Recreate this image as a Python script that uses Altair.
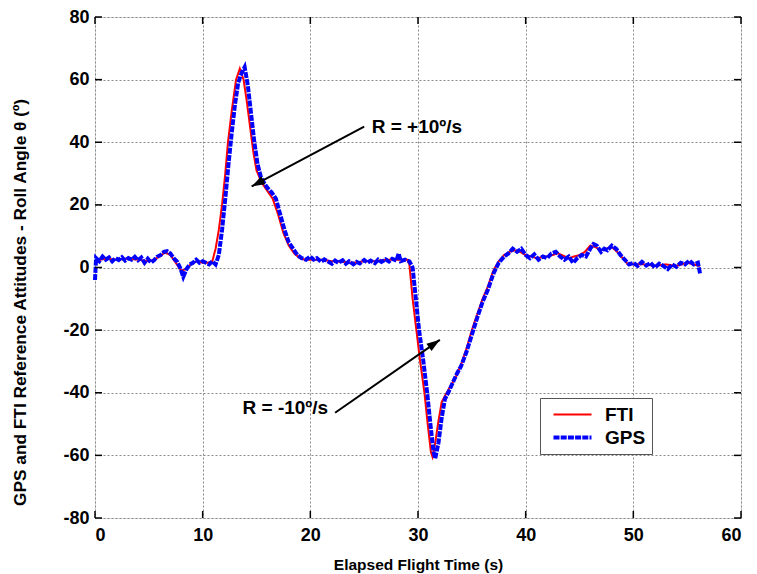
import math
import altair as alt
import pandas as pd

# ---------------- data ----------------
fti_t = [0.0, 0.5, 1.0, 2.0, 3.0, 4.0, 5.0, 5.5, 6.0, 6.5, 7.0, 7.5, 8.0, 8.5, 9.0, 9.5,
         10.0, 10.5, 10.9, 11.2, 11.5, 11.8, 12.1, 12.35, 12.7, 13.1, 13.45, 13.8, 14.1,
         14.4, 14.7, 15.0, 15.5, 16.0, 16.5, 17.0, 17.5, 18.0, 18.5, 19.0, 19.5, 20, 21,
         22, 23, 24, 25, 26, 27, 28, 29, 29.2, 29.5, 29.85, 30.2, 30.6, 30.9, 31.2, 31.35,
         31.6, 31.9, 32.2, 32.5, 33.0, 33.5, 34.0, 34.5, 35.0, 35.5, 36.0, 36.5, 37.0,
         37.5, 38.0, 38.5, 39.0, 39.5, 40.0, 41.0, 42.0, 43.0, 44.0, 45.0, 45.5, 46.0,
         46.5, 47.0, 47.5, 48.0, 48.5, 49.0, 49.5, 50.0, 51, 52, 53, 54, 55, 56.2]
fti_v = [1.5, 2.5, 2.8, 2.5, 2.8, 2.5, 2.0, 2.5, 3.5, 4.8, 4.0, 1.5, -1.0, -0.5, 1.5, 2.0,
         1.5, 1.5, 2.0, 6, 12, 20, 30, 40, 50, 60, 63.5, 60, 53,
         45, 37, 31, 27, 24.5, 22, 17, 11, 7, 4.5, 3, 2.5, 2.5, 2.5,
         2, 1.8, 1.5, 2, 2, 2.5, 2.5, 2.5, 1, -10, -20, -30, -40, -50, -59, -60.5,
         -56, -49, -43, -41, -38, -35, -31, -26, -20, -15, -10, -6, -1,
         2, 4, 5, 5.5, 5, 4, 3, 3.5, 4.5, 3, 4, 5, 7,
         6.5, 5.5, 6, 6.5, 5, 3, 1, 1, 1, 0.5, 1, 0.5, 1.5, 0.5]

gps_t = [0.0, 0.1, 0.4, 0.7, 1.0, 1.3, 1.6, 1.9, 2.2, 2.5, 2.8, 3.1, 3.4, 3.7, 4.0, 4.3,
         4.6, 4.9, 5.2, 5.5, 5.8, 6.1, 6.4, 6.7, 7.0, 7.3, 7.6, 7.9, 8.2, 8.5, 8.8, 9.1,
         9.4, 9.7, 10.0, 10.3, 10.6, 10.9, 11.2, 11.5, 11.8, 12.1, 12.4, 12.7, 13.0, 13.3,
         13.6, 13.9, 14.2, 14.5, 14.8, 15.1, 15.4, 15.7, 16.0, 16.4, 16.8, 17.2, 17.6,
         18.0, 18.4, 18.8, 19.2, 19.6, 20.0, 20.3, 20.6, 21.0, 21.3, 21.6, 22.0, 22.3,
         22.6, 23.0, 23.3, 23.6, 24.0, 24.3, 24.6, 25.0, 25.3, 25.6, 26.0, 26.3, 26.6,
         27.0, 27.3, 27.6, 28.0, 28.2, 28.4, 28.8, 29.2, 29.5, 29.8, 30.1, 30.5, 30.85,
         31.15, 31.45, 31.6, 31.9, 32.2, 32.5, 32.8, 33.2, 33.6, 34.0, 34.5, 35.0, 35.5,
         36.0, 36.5, 37.0, 37.5, 38.0, 38.4, 38.8, 39.2, 39.6, 40.0, 40.4, 40.8, 41.2,
         41.6, 42.0, 42.4, 42.8, 43.2, 43.6, 44.0, 44.4, 44.8, 45.2, 45.6, 46.0, 46.3,
         46.6, 47.0, 47.3, 47.6, 48.0, 48.4, 48.8, 49.2, 49.6, 50.0, 50.4, 50.8, 51.2,
         51.6, 52.0, 52.4, 52.8, 53.2, 53.6, 54.0, 54.4, 54.8, 55.2, 55.6, 56.0, 56.2]
gps_v = [-4, 3, 2, 3.5, 2.5, 3.2, 2, 3, 2.4, 3.3, 2.2, 3, 2.5, 3.4, 2.3, 3.2,
         1.5, 2.8, 1.6, 2.4, 3.5, 4, 5, 5.2, 4.5, 3, 2, 0, -3, -0.5, 1, 1.5,
         2.5, 1.5, 2, 1.5, 1, 2, 1, 4, 12, 22, 33, 43, 52, 59,
         62, 64, 58, 49, 40, 33, 29, 27, 25.5, 24, 22, 17, 12,
         8, 6, 4, 3, 2.5, 3.5, 2.5, 3, 1.8, 2.6, 2, 1.2, 2.2,
         1.5, 2.3, 1.2, 2, 1, 1.8, 1.3, 2.4, 1.5, 2.2, 1.4, 2.5, 1.8,
         2.6, 1.9, 2.8, 2.2, 4.5, 2, 2.5, 2, 0, -10, -20, -30, -40,
         -50, -59, -61, -56, -48, -42, -40, -37, -34, -31.5, -27, -21.5, -16,
         -11, -7, -2, 1.5, 3.5, 4.5, 6, 5, 6, 4, 3, 4.2, 2.5,
         3.5, 3, 4.5, 5, 3.5, 2.5, 3.5, 1.5, 3, 4, 3.5, 6, 7.5,
         7, 5, 6, 5.5, 7, 6, 4, 2.5, 1, 1.5, 0.5, 1.8, 0.6,
         1.5, 0, 1.2, 0.5, -0.5, 1, 0.2, 1.5, 1, 2.2, 1, 1.5, -2]

series_names = ["FTI", "GPS"]
series_colors = ["#ff0000", "#0000ff"]

x_ticks = [0, 10, 20, 30, 40, 50, 60]
y_ticks = [-80, -60, -40, -20, 0, 20, 40, 60, 80]

ann_text = ["R = +10º/s", "R = -10º/s"]
ann_text_t = [25.7, 13.7]
ann_text_v = [44.9, -44.8]
arrow_t0 = [25.0, 22.3]
arrow_v0 = [45.0, -46.4]
arrow_t1 = [14.55, 32.03]
arrow_v1 = [25.9, -23.1]

# ---------------- layout ----------------
W, H = 646, 501
XMIN, XMAX, YMIN, YMAX = 0, 60, -80, 80
FONT = "Liberation Sans"

df = pd.concat([
    pd.DataFrame({"t": fti_t, "v": fti_v, "series": "FTI", "ord": range(len(fti_t))}),
    pd.DataFrame({"t": gps_t, "v": gps_v, "series": "GPS", "ord": range(len(gps_t))}),
], ignore_index=True)

xs = alt.Scale(domain=[XMIN, XMAX], nice=False, zero=False)
ys = alt.Scale(domain=[YMIN, YMAX], nice=False, zero=False)

legend = alt.Legend(
    title=None, orient="none", legendX=445, legendY=381,
    strokeColor="#555555", fillColor="white", padding=6,
    symbolType="M-2,0L2,0", symbolSize=361, symbolStrokeWidth=2.5,
    symbolFillColor="transparent",
    labelFont=FONT, labelFontSize=19, labelFontWeight="bold", labelColor="black",
    labelOffset=21, rowPadding=1, symbolOffset=15, labelLimit=300,
    labelExpr="datum.label + '\u00a0\u00a0\u00a0\u00a0'",
)

lines = alt.Chart(df).mark_line(interpolate="linear").encode(
    x=alt.X("t:Q", scale=xs, axis=alt.Axis(
        values=x_ticks, title="Elapsed Flight Time (s)", grid=True, domain=False, ticks=False,
        labelFont=FONT, labelFontSize=18, labelFontWeight="bold", labelColor="black",
        labelPadding=8, titleFont=FONT, titleFontSize=15.5, titleFontWeight="bold",
        titleColor="black", titleY=46, titleBaseline="middle",
        labelExpr="'' + datum.value",
        gridDash=[2, 2], gridColor="#888888", gridWidth=1)),
    y=alt.Y("v:Q", scale=ys, axis=alt.Axis(
        values=y_ticks, title="GPS and FTI Reference Attitudes - Roll Angle θ (º)",
        grid=True, domain=False, ticks=False,
        labelFont=FONT, labelFontSize=18, labelFontWeight="bold", labelColor="black",
        labelPadding=6, titleFont=FONT, titleFontSize=17.3, titleFontWeight="bold",
        labelExpr="'' + datum.value",
        titleColor="black", titleX=-75, titleY=285, titleBaseline="middle",
        titleAlign="center", titleAngle=270,
        gridDash=[2, 2], gridColor="#888888", gridWidth=1)),
    color=alt.Color("series:N", scale=alt.Scale(domain=series_names, range=series_colors),
                    legend=legend),
    strokeDash=alt.StrokeDash("series:N", scale=alt.Scale(domain=series_names,
                              range=[[1, 0], [6, 1.2]]), legend=legend),
    strokeWidth=alt.StrokeWidth("series:N", scale=alt.Scale(domain=series_names,
                                range=[2, 4]), legend=None),
    order="ord:Q",
)

# inward tick marks on the four frame sides
xt = pd.DataFrame({"t": x_ticks})
yt = pd.DataFrame({"v": y_ticks})
tick_len = 7
ticks_bottom = alt.Chart(xt).mark_rule(color="black", strokeWidth=1.5).encode(
    x=alt.X("t:Q", scale=xs), y=alt.value(H), y2=alt.value(H - tick_len))
ticks_top = alt.Chart(xt).mark_rule(color="black", strokeWidth=1.5).encode(
    x=alt.X("t:Q", scale=xs), y=alt.value(0), y2=alt.value(tick_len))
ticks_left = alt.Chart(yt).mark_rule(color="black", strokeWidth=1.5).encode(
    y=alt.Y("v:Q", scale=ys), x=alt.value(0), x2=alt.value(tick_len))
ticks_right = alt.Chart(yt).mark_rule(color="black", strokeWidth=1.5).encode(
    y=alt.Y("v:Q", scale=ys), x=alt.value(W), x2=alt.value(W - tick_len))

# annotations
sx = W / (XMAX - XMIN)
sy = H / (YMAX - YMIN)
angles = []
for a0, b0, a1, b1 in zip(arrow_t0, arrow_v0, arrow_t1, arrow_v1):
    dx = (a1 - a0) * sx
    dy = -(b1 - b0) * sy
    angles.append(math.degrees(math.atan2(dx, -dy)) % 360)

arr = pd.DataFrame({"t0": arrow_t0, "v0": arrow_v0, "t1": arrow_t1, "v1": arrow_v1,
                    "ang": angles})
arrow_lines = alt.Chart(arr).mark_rule(color="black", strokeWidth=2).encode(
    x=alt.X("t0:Q", scale=xs), y=alt.Y("v0:Q", scale=ys), x2="t1:Q", y2="v1:Q")
arrow_heads = alt.Chart(arr).mark_point(
    shape="M0,0L0.34,1L-0.34,1Z", filled=True, color="black", opacity=1, size=700,
    strokeWidth=0).encode(
    x=alt.X("t1:Q", scale=xs), y=alt.Y("v1:Q", scale=ys), angle=alt.Angle("ang:Q", scale=None))

txt = pd.DataFrame({"t": ann_text_t, "v": ann_text_v, "label": ann_text})
texts = alt.Chart(txt).mark_text(
    align="left", baseline="middle", font=FONT, fontSize=19, fontWeight="bold",
    color="black").encode(x=alt.X("t:Q", scale=xs), y=alt.Y("v:Q", scale=ys), text="label:N")

chart = alt.layer(
    lines, ticks_bottom, ticks_top, ticks_left, ticks_right, arrow_lines, arrow_heads, texts
).properties(
    width=W, height=H,
    autosize=alt.AutoSizeParams(type="none"),
    padding={"left": 87, "top": 9, "right": 8, "bottom": 56},
).configure_view(
    stroke="black", strokeWidth=1.5, fill="white"
).configure(background="white")

chart.save("out.html", embed_options={"renderer": "svg", "actions": False})
